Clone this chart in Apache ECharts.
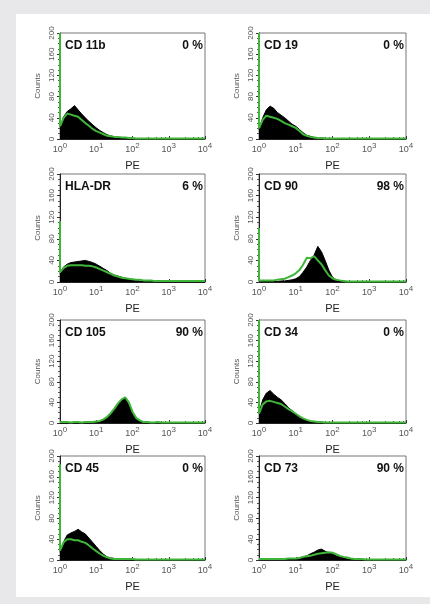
<!DOCTYPE html>
<html>
<head>
<meta charset="utf-8">
<script src="https://cdn.jsdelivr.net/npm/echarts@6/dist/echarts.min.js"></script>
<style>
  html, body { margin: 0; padding: 0; background: #e8e8ea; }
  #chart { width: 430px; height: 604px; }
</style>
</head>
<body>
<div id="chart"></div>
<script>
// PE channel bins, 0.1 decade apart from 10^0 to 10^4
const pe = [1, 1.26, 1.58, 2, 2.51, 3.16, 3.98, 5.01, 6.31, 7.94,
  10, 12.6, 15.8, 20, 25.1, 31.6, 39.8, 50.1, 63.1, 79.4,
  100, 126, 158, 200, 251, 316, 398, 501, 631, 794,
  1000, 1259, 1585, 1995, 2512, 3162, 3981, 5012, 6310, 7943, 10000];

// stained sample (black) and isotype control (green) counts per marker
const cd11b    = [22,42,52,57,63,55,47,40,33,27,21,16,12,8,6,4,3,3,2,2,1,1,1,0,1,0,0,0,0,0,0,0,0,0,0,0,0,0,0,0,0];
const cd11bIso = [24,40,48,46,44,42,36,30,25,19,15,12,9,6,5,4,4,3,3,2,2,1,1,1,1,1,1,1,1,1,1,1,1,1,1,1,1,1,1,1,1];
const cd19     = [18,40,55,62,58,50,45,40,34,28,24,18,12,7,5,3,2,2,1,1,1,0,0,0,0,0,0,0,0,0,0,0,0,0,0,0,0,0,0,0,0];
const cd19Iso  = [20,36,44,42,40,38,34,30,27,24,21,15,9,6,4,3,2,2,1,1,1,1,1,1,1,1,1,1,1,1,1,1,1,1,1,1,1,1,1,1,1];
const hladr    = [15,28,33,36,37,38,39,40,38,36,33,29,25,21,16,13,11,9,7,5,4,3,2,2,1,1,1,0,0,0,0,0,0,0,0,0,0,0,0,0,0];
const hladrIso = [18,26,30,31,31,31,31,30,30,29,27,24,21,18,15,12,10,8,7,6,5,4,4,3,3,3,2,2,2,2,2,2,2,2,2,2,2,2,2,2,2];
const cd90     = [0,1,1,1,1,1,2,2,3,4,6,10,18,28,40,50,66,56,40,22,9,4,2,1,1,0,0,0,0,0,0,0,0,0,0,0,0,0,0,0,0];
const cd90Iso  = [3,3,3,3,3,4,5,6,9,12,16,22,32,45,44,48,40,33,22,12,7,4,3,2,1,1,1,1,1,1,1,1,1,1,1,1,1,1,1,1,1];
const cd105    = [0,0,0,0,0,0,0,0,0,1,2,3,6,10,17,26,36,44,48,36,18,8,3,1,0,0,0,0,0,0,0,0,0,0,0,0,0,0,0,0,0];
const cd105Iso = [2,2,2,1,2,2,1,2,2,2,3,4,7,12,19,28,38,46,50,40,22,10,5,2,2,1,1,2,1,1,1,1,1,1,1,1,1,1,1,1,1];
const cd34     = [20,45,58,63,56,50,45,38,30,24,18,12,9,5,3,2,1,1,1,0,0,0,0,0,0,0,0,0,0,0,0,0,0,0,0,0,0,0,0,0,0];
const cd34Iso  = [18,36,42,43,41,39,37,32,27,23,18,13,9,6,4,3,2,2,1,1,1,1,1,1,1,1,1,1,1,1,1,1,1,1,1,1,1,1,1,1,1];
const cd45     = [15,35,48,52,55,59,54,50,42,34,26,18,11,6,4,3,2,1,1,1,0,0,0,0,0,0,0,0,0,0,0,0,0,0,0,0,0,0,0,0,0];
const cd45Iso  = [18,34,40,40,38,38,35,33,28,22,17,12,8,5,3,2,2,2,2,2,2,1,1,1,1,1,1,1,1,1,1,1,1,1,1,1,1,1,1,1,1];
const cd73     = [1,1,1,1,1,1,1,1,2,2,3,4,6,8,12,15,19,21,17,14,12,8,6,4,2,1,1,1,0,0,0,0,0,0,0,0,0,0,0,0,0];
const cd73Iso  = [2,2,2,2,2,2,2,2,3,3,3,4,6,7,8,10,12,13,14,15,14,11,8,6,5,3,2,2,2,1,1,1,1,1,1,1,1,1,1,1,1];

const markers  = ['CD 11b', 'CD 19', 'HLA-DR', 'CD 90', 'CD 105', 'CD 34', 'CD 45', 'CD 73'];
const positive = ['0 %', '0 %', '6 %', '98 %', '90 %', '0 %', '0 %', '90 %'];
const stained  = [cd11b, cd19, hladr, cd90, cd105, cd34, cd45, cd73];
const isotype  = [cd11bIso, cd19Iso, hladrIso, cd90Iso, cd105Iso, cd34Iso, cd45Iso, cd73Iso];
// events piled up in the first channel (the green spike on the left edge)
const firstBin = [200, 200, 113, 100, 0, 200, 184, 0];

const cols = [{ left: 60, width: 145 }, { left: 259, width: 147 }];
const rows = [{ top: 33, height: 106 }, { top: 174, height: 108 }, { top: 320, height: 103 }, { top: 456, height: 104 }];

const font = 'Liberation Sans, Arial, sans-serif';
const green = '#3fb53a';

let grid = [], xAxis = [], yAxis = [], series = [], title = [];

markers.forEach((name, i) => {
  const c = cols[i % 2], r = rows[Math.floor(i / 2)];
  grid.push({
    left: c.left, top: r.top, width: c.width, height: r.height,
    show: true, borderColor: '#777', borderWidth: 1, backgroundColor: '#fff',
    outerBoundsMode: 'none'
  });
  xAxis.push({
    type: 'log', logBase: 10, min: 1, max: 10000, gridIndex: i,
    name: 'PE', nameLocation: 'middle', nameGap: 21,
    nameTextStyle: { fontSize: 11, color: '#222', fontFamily: font },
    axisLine: { lineStyle: { color: '#222', width: 1 } },
    axisTick: { inside: true, length: 3, lineStyle: { color: '#333' } },
    minorTick: { show: true, splitNumber: 5, length: 2, lineStyle: { color: '#555' } },
    splitLine: { show: false },
    axisLabel: {
      margin: 3, showMinLabel: true, showMaxLabel: true,
      formatter: v => '{b|10}{s|' + Math.round(Math.log10(v)) + '}',
      rich: {
        b: { fontSize: 9, color: '#555', fontFamily: font, lineHeight: 12, verticalAlign: 'bottom' },
        s: { fontSize: 8, color: '#555', fontFamily: font, lineHeight: 12, verticalAlign: 'top' }
      }
    }
  });
  yAxis.push({
    type: 'value', min: 0, max: 200, interval: 40, gridIndex: i,
    name: 'Counts', nameLocation: 'middle', nameGap: 18, nameRotate: 90,
    nameTextStyle: { fontSize: 8, color: '#555', fontFamily: font },
    axisLine: { show: true, lineStyle: { color: '#222', width: 1 } },
    axisTick: { show: true, length: 3, lineStyle: { color: '#333' } },
    minorTick: { show: true, splitNumber: 4, length: 2, lineStyle: { color: '#555' } },
    splitLine: { show: false },
    axisLabel: { rotate: 90, fontSize: 8, color: '#555', margin: 4, fontFamily: font }
  });
  series.push({
    type: 'line', xAxisIndex: i, yAxisIndex: i, symbol: 'none', z: 2,
    data: pe.map((x, k) => [x, stained[i][k]]),
    lineStyle: { color: '#000', width: 1 },
    areaStyle: { color: '#000', opacity: 1 }
  });
  const iso = pe.map((x, k) => [x, isotype[i][k]]);
  if (firstBin[i] > 0) iso.unshift([1, firstBin[i]]);
  series.push({
    type: 'line', xAxisIndex: i, yAxisIndex: i, symbol: 'none', z: 3, clip: false,
    data: iso,
    lineStyle: { color: green, width: 2 }
  });
  title.push({
    text: name, left: c.left + 5, top: r.top + 7, padding: 0,
    textStyle: { fontSize: 12, fontWeight: 'bold', color: '#111', fontFamily: font }
  });
  title.push({
    text: positive[i], right: 430 - (c.left + c.width) + 2, top: r.top + 7, padding: 0,
    textStyle: { fontSize: 12, fontWeight: 'bold', color: '#111', fontFamily: font }
  });
});

const chart = echarts.init(document.getElementById('chart'));
chart.setOption({
  animation: false,
  backgroundColor: '#e8e8ea',
  graphic: [{
    type: 'rect', z: -10, silent: true,
    shape: { x: 16, y: 14, width: 414, height: 583 },
    style: { fill: '#fff' }
  }],
  title, grid, xAxis, yAxis, series
});
</script>
</body>
</html>
